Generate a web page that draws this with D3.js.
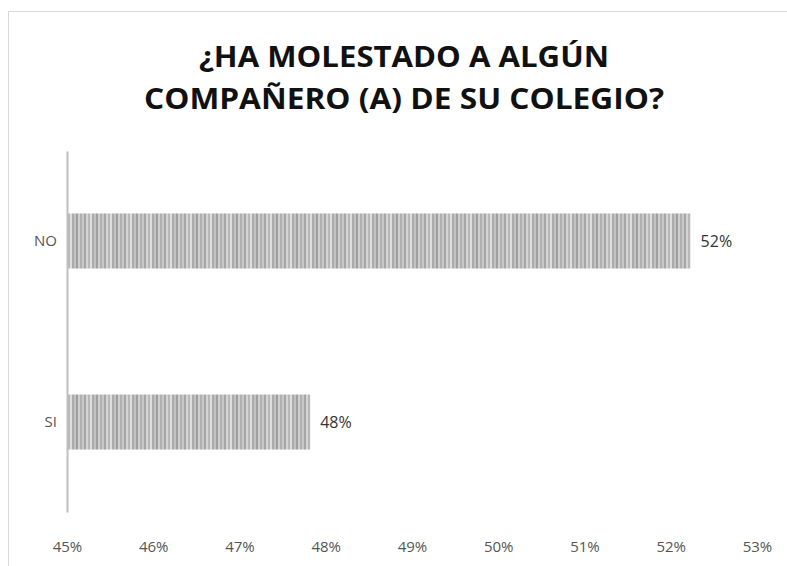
<!DOCTYPE html>
<html>
<head>
<meta charset="utf-8">
<script src="https://cdn.jsdelivr.net/npm/d3@7"></script>
<style>
  body { margin: 0; background: #fff; }
  svg { display: block; }
</style>
</head>
<body>
<div id="chart"></div>
<script>
const categories = ["NO", "SI"];
const values = [52.23, 47.82];
const valueLabels = ["52%", "48%"];
const tickValues = [45, 46, 47, 48, 49, 50, 51, 52, 53];
const titleLines = ["¿HA MOLESTADO A ALGÚN", "COMPAÑERO (A) DE SU COLEGIO?"];

const W = 787, H = 566;
const svg = d3.select("#chart").append("svg")
  .attr("width", W).attr("height", H);

// stripe texture used by the bars
const stripeGrays = ["#b0b0b0", "#c8c8c8", "#a6a6a6", "#d4d4d4", "#b8b8b8", "#dedede", "#ababab", "#c2c2c2", "#9f9f9f", "#cfcfcf"];
const defs = svg.append("defs");
const pat = defs.append("pattern")
  .attr("id", "stripes")
  .attr("patternUnits", "userSpaceOnUse")
  .attr("width", stripeGrays.length * 2).attr("height", 10);
pat.selectAll("rect").data(stripeGrays).enter().append("rect")
  .attr("x", (d, i) => i * 2).attr("y", 0)
  .attr("width", 2).attr("height", 10)
  .attr("fill", d => d);

// chart frame
svg.append("rect")
  .attr("x", 8.5).attr("y", 11.5)
  .attr("width", W).attr("height", H)
  .attr("fill", "none").attr("stroke", "#d9d9d9");

const x = d3.scaleLinear().domain([45, 53]).range([67, 757]);
const y = d3.scaleBand().domain(categories).range([151, 512]).paddingInner(0.696).paddingOuter(0.345);

// title
const title = svg.append("text")
  .attr("text-anchor", "middle")
  .style("font-family", "'Open Sans', sans-serif")
  .style("font-weight", "bold")
  .style("font-size", "29px")
  .style("fill", "#111");
title.selectAll("tspan").data(titleLines).enter().append("tspan")
  .attr("x", 404)
  .attr("y", (d, i) => 67 + i * 42)
  .attr("textLength", (d, i) => i === 0 ? 410 : 520)
  .attr("lengthAdjust", "spacingAndGlyphs")
  .text(d => d);

// bars
svg.append("g").selectAll("rect")
  .data(categories).enter().append("rect")
  .attr("x", x(45))
  .attr("y", d => y(d))
  .attr("width", (d, i) => x(values[i]) - x(45))
  .attr("height", y.bandwidth())
  .attr("fill", "url(#stripes)");

// value labels
svg.append("g").selectAll("text")
  .data(categories).enter().append("text")
  .attr("x", (d, i) => x(values[i]) + 10)
  .attr("y", d => y(d) + y.bandwidth() / 2)
  .attr("dy", "0.35em")
  .style("font-family", "'Open Sans', sans-serif")
  .style("font-size", "16px")
  .style("fill", "#333")
  .text((d, i) => valueLabels[i]);

// y axis
const yAxis = svg.append("g")
  .attr("transform", "translate(" + x(45) + ",0)")
  .call(d3.axisLeft(y).tickSize(0).tickPadding(10));
yAxis.select(".domain").attr("stroke", "#bfbfbf").attr("stroke-width", 2);
yAxis.selectAll("text")
  .style("font-family", "'Open Sans', sans-serif")
  .style("font-size", "15px")
  .style("fill", "#555");

// x axis (labels only)
const xAxis = svg.append("g")
  .attr("transform", "translate(0,538)")
  .call(d3.axisBottom(x).tickValues(tickValues).tickSize(0).tickFormat(d => d + "%"));
xAxis.select(".domain").remove();
xAxis.selectAll("text")
  .style("font-family", "'Open Sans', sans-serif")
  .style("font-size", "15px")
  .style("fill", "#555");
</script>
</body>
</html>
